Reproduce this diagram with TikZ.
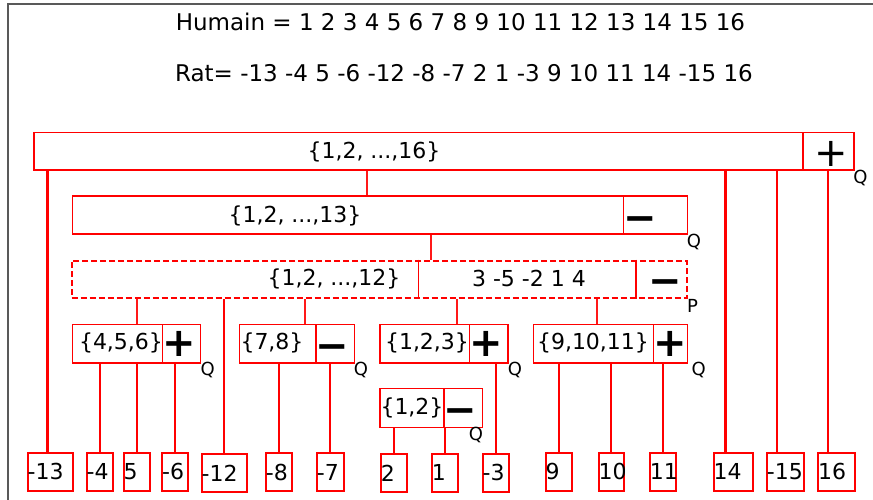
\documentclass[tikz,border=0pt]{standalone}
\usepackage{fontspec}
\setmainfont{DejaVu Sans}
\usetikzlibrary{fit}
\newcommand\bodyfont{\fontsize{22}{26}\selectfont}
\newcommand\headfont{\fontsize{23}{27}\selectfont}
\newcommand\markfont{\fontsize{18}{20}\selectfont}
\newcommand\symbfont{\fontsize{40}{40}\selectfont}
\begin{document}
\begin{tikzpicture}[x=1pt,y=-1pt,
  every node/.style={inner sep=0pt},
  cellbox/.style={draw=red, line width=1.5pt, inner sep=0pt},
  setbox/.style={draw=red, line width=2pt, dash pattern=on 6pt off 3pt, inner sep=0pt},
  divider/.style={draw=red, line width=1.4pt},
  leafbox/.style={draw=red, line width=1.8pt, anchor=north west, inner xsep=0pt,
    inner ysep=0pt, minimum height=38pt, align=left, font=\bodyfont, text width=#1},
  setlabel/.style={font=\bodyfont},
  headline/.style={font=\headfont},
  qlabel/.style={font=\markfont},
  plussym/.style={font=\symbfont},
  boldplus/.style={font=\symbfont\bfseries},
  minussym/.style={font=\symbfont\bfseries, text height=21.5pt, text depth=-16.5pt},
  conthin/.style={draw=red!90!white, line width=1.2pt},
  conleaf/.style={draw=red, line width=1.8pt},
  conthick/.style={draw=red, line width=2.4pt},
  frameline/.style={draw=black!65, line width=1.5pt}
]
\useasboundingbox (0,0) rectangle (873,500);

% outer frame (top and left edges)
\draw[frameline] (8,500) -- (8,4) -- (873,4);

% header lines
\node[headline] (hum) at (460.5,22) {Humain = 1 2 3 4 5 6 7 8 9 10 11 12 13 14 15 16};
\node[headline] (rat) at (464,73) {Rat= -13 -4 5 -6 -12 -8 -7 2 1 -3 9 10 11 14 -15 16};

% level 1
\node[cellbox, fit={(34,132.3) (803,170)}] (r1L) {};
\node[cellbox, fit={(803,132.3) (854,170)}] (r1R) {};
\node[setlabel] (t16) at (374,151.5) {\{1,2, ...,16\}};
\node[plussym] (s1) at (831.5,153.5) {+};
\node[qlabel] (q1) at (860.5,178) {Q};

% level 2
\node[cellbox, fit={(72.3,196) (623.3,234)}] (r2L) {};
\node[cellbox, fit={(623.3,196) (687.3,234)}] (r2R) {};
\node[setlabel] (t13) at (295,215.5) {\{1,2, ...,13\}};
\node[minussym] (s2) at (640,220.5) {−};
\node[qlabel] (q2) at (694,242) {Q};

% level 3 (dashed)
\node[setbox, fit={(71.7,260.7) (686.7,298)}] (r3) {};
\coordinate (d1) at (418.7,0);
\coordinate (d2) at (636,0);
\draw[divider] (r3.north -| d1) -- (r3.south -| d1);
\draw[divider] (r3.north -| d2) -- (r3.south -| d2);
\node[setlabel] (t12) at (334,279) {\{1,2, ...,12\}};
\node[setlabel] (tperm) at (529,278.5) {3 -5 -2 1 4};
\node[minussym] (s3) at (665,284) {−};
\node[qlabel] (p3) at (692.5,306) {P};

% level 4
\node[cellbox, fit={(72.7,324.3) (162.7,363)}] (a456L) {};
\node[cellbox, fit={(162.7,324.3) (200.7,363)}] (a456R) {};
\node[setlabel] (t456) at (121,343) {\{4,5,6\}};
\node[boldplus] (s4) at (179,344) {+};
\node[qlabel] (q4) at (207.7,370) {Q};

\node[cellbox, fit={(239.3,324.3) (316,363)}] (a78L) {};
\node[cellbox, fit={(316,324.3) (354.3,363)}] (a78R) {};
\node[setlabel] (t78) at (272,343) {\{7,8\}};
\node[minussym] (s5) at (332.5,349) {−};
\node[qlabel] (q5) at (361,370) {Q};

\node[cellbox, fit={(380,324.3) (469.3,363)}] (a123L) {};
\node[cellbox, fit={(469.3,324.3) (508,363)}] (a123R) {};
\node[setlabel] (t123) at (427,343) {\{1,2,3\}};
\node[boldplus] (s6) at (486.5,344) {+};
\node[qlabel] (q6) at (515,370) {Q};

\node[cellbox, fit={(533.7,324.3) (653.3,363)}] (a9L) {};
\node[cellbox, fit={(653.3,324.3) (687.3,363)}] (a9R) {};
\node[setlabel] (t91011) at (593,343) {\{9,10,11\}};
\node[boldplus] (s7) at (670,344) {+};
\node[qlabel] (q7) at (698.7,370) {Q};

% level 5
\node[cellbox, fit={(380,388.3) (444,427.3)}] (a12L) {};
\node[cellbox, fit={(444,388.3) (482.3,427.3)}] (a12R) {};
\node[setlabel] (t12s) at (412,408) {\{1,2\}};
\node[minussym] (s8) at (460,412.5) {−};
\node[qlabel] (q8) at (476,435) {Q};

% leaves
\node[leafbox=45pt]   (l13) at (26.7,452) {-13};
\node[leafbox=26.6pt] (l4)  at (85.7,452) {-4};
\node[leafbox=26.6pt] (l5)  at (122.7,452) {5};
\node[leafbox=26pt]   (l6)  at (161.3,452) {-6};
\node[leafbox=45pt]   (l12) at (200.7,453) {-12};
\node[leafbox=26.3pt] (l8)  at (265,452.3) {-8};
\node[leafbox=26.7pt] (l7)  at (316,452.3) {-7};
\node[leafbox=26pt]   (l2)  at (380,453) {2};
\node[leafbox=26.3pt] (l1)  at (431,453) {1};
\node[leafbox=26.6pt] (l3)  at (481.7,453) {-3};
\node[leafbox=26.6pt] (l9)  at (544.7,452) {9};
\node[leafbox=25.6pt] (l10) at (597.7,452) {10};
\node[leafbox=26pt]   (l11) at (649,452) {11};
\node[leafbox=39.6pt] (l14) at (712.7,452) {14};
\node[leafbox=37pt]   (l15) at (766,452) {-15};
\node[leafbox=37pt]   (l16) at (817.3,452) {16};

% connector positions
\coordinate (k1) at (367,0);
\coordinate (k2) at (431,0);
\coordinate (k3) at (137,0);
\coordinate (k4) at (305,0);
\coordinate (k5) at (457,0);
\coordinate (k6) at (597,0);
\coordinate (k7) at (725.3,0);
\coordinate (k8) at (777,0);
\coordinate (k9) at (828,0);
\coordinate (k10) at (47.3,0);
\coordinate (k11) at (611,0);

% tree connectors
\draw[conthin] (r1L.south -| k1) -- (r2L.north -| k1);
\draw[conthin] (r2L.south -| k2) -- (r3.north -| k2);
\draw[conthin] (r3.south -| k3) -- (a456L.north -| k3);
\draw[conthin] (r3.south -| k4) -- (a78L.north -| k4);
\draw[conthin] (r3.south -| k5) -- (a123L.north -| k5);
\draw[conthin] (r3.south -| k6) -- (a9L.north -| k6);
\draw[conthick] (r3.south -| l12.north) -- (l12.north);
\draw[conthick] (r1L.south -| k10) -- (l13.north -| k10);
\draw[conthick] (r1L.south -| k7) -- (l14.north -| k7);
\draw[conthick] (r1L.south -| k8) -- (l15.north -| k8);
\draw[conthick] (r1R.south -| k9) -- (l16.north -| k9);

% leaf connectors
\draw[conleaf] (a456L.south -| l4.north) -- (l4.north);
\draw[conleaf] (a456L.south -| l5.north) -- (l5.north);
\draw[conleaf] (a456R.south -| l6.north) -- (l6.north);
\draw[conleaf] (a78L.south -| l8.north) -- (l8.north);
\draw[conleaf] (a78R.south -| l7.north) -- (l7.north);
\draw[conleaf] (a123R.south -| l3.north) -- (l3.north);
\draw[conleaf] (a12L.south -| l2.north) -- (l2.north);
\draw[conleaf] (a12L.south -| l1.north) -- (l1.north);
\draw[conleaf] (a9L.south -| l9.north) -- (l9.north);
\draw[conleaf] (a9L.south -| k11) -- (l10.north -| k11);
\draw[conleaf] (a9R.south -| l11.north) -- (l11.north);
\end{tikzpicture}
\end{document}
